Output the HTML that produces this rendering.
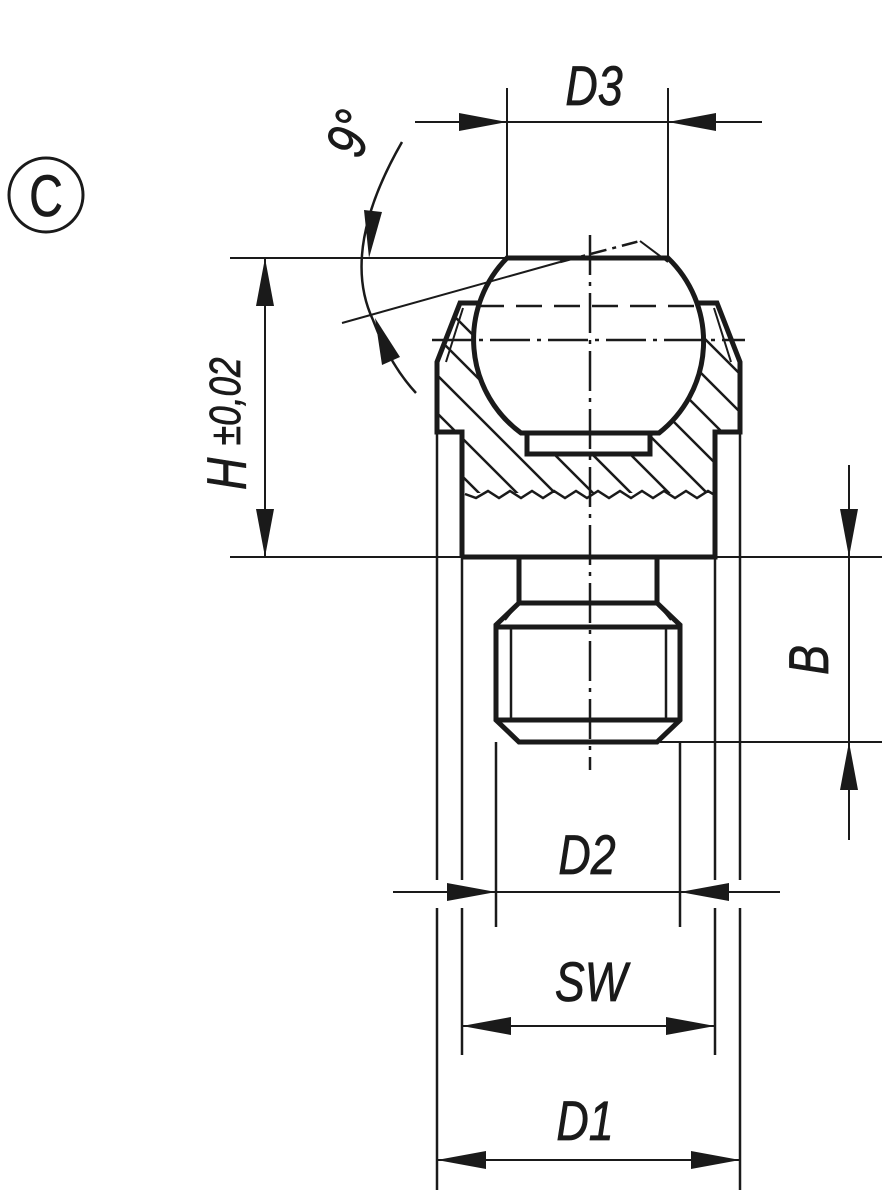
<!DOCTYPE html>
<html><head><meta charset="utf-8"><style>
html,body{margin:0;padding:0;background:#fff;}
svg{display:block;}
text{font-family:"Liberation Sans",sans-serif;font-style:italic;fill:#1a1a1a;stroke:#1a1a1a;stroke-width:0.8;}
</style></head><body>
<svg width="890" height="1200" viewBox="0 0 890 1200" xmlns="http://www.w3.org/2000/svg">
<defs>
<clipPath id="hc"><polygon points="460,303 717,303 740,362 740,432 715,432 715,493 462,493 462,432 437,432 437,362"/></clipPath>
</defs>
<g stroke="#1a1a1a" fill="none">
<circle cx="46" cy="195" r="37" stroke-width="3"/>
<g clip-path="url(#hc)" stroke-width="2.5">
<line x1="300" y1="200" x2="700" y2="600"/><line x1="338" y1="200" x2="738" y2="600"/><line x1="376" y1="200" x2="776" y2="600"/><line x1="414" y1="200" x2="814" y2="600"/><line x1="452" y1="200" x2="852" y2="600"/><line x1="490" y1="200" x2="890" y2="600"/><line x1="528" y1="200" x2="928" y2="600"/><line x1="566" y1="200" x2="966" y2="600"/><line x1="262" y1="200" x2="662" y2="600"/><line x1="224" y1="200" x2="624" y2="600"/><line x1="186" y1="200" x2="586" y2="600"/><line x1="148" y1="200" x2="548" y2="600"/>
</g>
<polyline points="462,557 462,432 437,432 437,362 460,303 717,303 740,362 740,432 715,432 715,557 462,557" stroke-width="5" stroke-linejoin="miter"/>
<line x1="463" y1="308" x2="446" y2="362" stroke-width="2"/>
<line x1="714" y1="308" x2="731" y2="362" stroke-width="2"/>
<path d="M507,258 L668,258 A116,116 0 0 1 659,433 L521,433 A116,116 0 0 1 507,258 Z" fill="#fff" stroke-width="5"/>
<rect x="527" y="433" width="123" height="21" fill="#fff" stroke-width="5"/>
<polyline points="465,494 476,498 488,491 499,498 510,491 521,498 532,491 543,498 554,491 565,498 576,491 587,498 598,491 609,498 620,491 631,498 642,491 653,498 664,491 675,498 686,491 697,498 708,491 713,494" stroke-width="2.5"/>
<polyline points="519,557 519,603 657,603 657,557" stroke-width="5"/>
<polygon points="519,603 657,603 680,625 680,720 657,742 519,742 496,720 496,625" stroke-width="5" stroke-linejoin="miter"/>
<line x1="496" y1="627" x2="680" y2="627" stroke-width="5"/>
<line x1="496" y1="720" x2="680" y2="720" stroke-width="5"/>
<line x1="511" y1="627" x2="511" y2="720" stroke-width="2.5"/>
<line x1="666" y1="627" x2="666" y2="720" stroke-width="2.5"/>
<line x1="519" y1="603" x2="505" y2="620" stroke-width="2"/>
<line x1="657" y1="603" x2="671" y2="620" stroke-width="2"/>
<line x1="590" y1="235" x2="590" y2="770" stroke-width="2.5" stroke-dasharray="40,7,4,7"/>
<line x1="432" y1="340" x2="745" y2="340" stroke-width="2.5" stroke-dasharray="40,7,4,7"/>
<line x1="478" y1="306" x2="700" y2="306" stroke-width="2.5" stroke-dasharray="26,12"/>
<line x1="507" y1="88" x2="507" y2="258" stroke-width="2"/>
<line x1="668" y1="88" x2="668" y2="258" stroke-width="2"/>
<line x1="415" y1="122" x2="762" y2="122" stroke-width="2"/>
<line x1="230" y1="258" x2="507" y2="258" stroke-width="2"/>
<line x1="230" y1="557" x2="882" y2="557" stroke-width="2"/>
<line x1="265" y1="258" x2="265" y2="557" stroke-width="2"/>
<path d="M402,142 Q340,250 373,320 Q390,365 416,393" stroke-width="2.5"/>
<line x1="342" y1="323" x2="560" y2="262" stroke-width="2"/>
<line x1="560" y1="262" x2="640" y2="241" stroke-width="2.5" stroke-dasharray="16,6,4,6"/>
<line x1="640" y1="241" x2="668" y2="262" stroke-width="2"/>
<line x1="849" y1="465" x2="849" y2="840" stroke-width="2"/>
<line x1="660" y1="742" x2="882" y2="742" stroke-width="2"/>
<line x1="437" y1="432" x2="437" y2="880" stroke-width="2.5"/>
<line x1="462" y1="557" x2="462" y2="880" stroke-width="2.5"/>
<line x1="715" y1="557" x2="715" y2="880" stroke-width="2.5"/>
<line x1="740" y1="432" x2="740" y2="880" stroke-width="2.5"/>
<line x1="437" y1="908" x2="437" y2="1190" stroke-width="2.5"/>
<line x1="462" y1="908" x2="462" y2="1055" stroke-width="2.5"/>
<line x1="715" y1="908" x2="715" y2="1055" stroke-width="2.5"/>
<line x1="740" y1="908" x2="740" y2="1190" stroke-width="2.5"/>
<line x1="496" y1="742" x2="496" y2="927" stroke-width="2.5"/>
<line x1="680" y1="742" x2="680" y2="927" stroke-width="2.5"/>
<line x1="393" y1="892" x2="780" y2="892" stroke-width="2"/>
<line x1="462" y1="1026" x2="715" y2="1026" stroke-width="2"/>
<line x1="437" y1="1160" x2="740" y2="1160" stroke-width="2"/>
</g>
<g fill="#1a1a1a">
<polygon points="507,122 459,113 459,131"/><polygon points="668,122 716,113 716,131"/>
<polygon points="265,258 256,306 274,306"/><polygon points="265,557 256,509 274,509"/>
<polygon points="369,258 364,210 382,212"/><polygon points="375,318 382,365 400,357"/>
<polygon points="849,557 840,509 858,509"/><polygon points="849,742 840,790 858,790"/>
<polygon points="496,892 447,883 447,901"/><polygon points="680,892 729,883 729,901"/>
<polygon points="462,1026 511,1017 511,1035"/><polygon points="715,1026 666,1017 666,1035"/>
<polygon points="437,1160 486,1151 486,1169"/><polygon points="740,1160 691,1151 691,1169"/>
</g>
<g font-size="56">
<text x="0" y="0" text-anchor="middle" transform="translate(46 216) scale(0.8 1)" font-size="58" style="font-style:normal">C</text>
<text x="0" y="0" text-anchor="middle" transform="translate(594 105) scale(0.8 1)">D3</text>
<text x="0" y="0" text-anchor="middle" transform="translate(587 874) scale(0.8 1)">D2</text>
<text x="0" y="0" text-anchor="middle" transform="translate(591 1001) scale(0.8 1)">SW</text>
<text x="0" y="0" text-anchor="middle" transform="translate(585 1140) scale(0.8 1)">D1</text>
<text x="0" y="0" text-anchor="middle" transform="translate(828 660) rotate(-90) scale(0.8 1)">B</text>
<text x="0" y="0" text-anchor="middle" transform="translate(368 140) rotate(-70) scale(0.8 1)">9°</text>
<text x="0" y="0" transform="translate(246 490) rotate(-90) scale(0.8 1)">H <tspan font-size="44" dy="-6">±0,02</tspan></text>
</g>
</svg>
</body></html>
